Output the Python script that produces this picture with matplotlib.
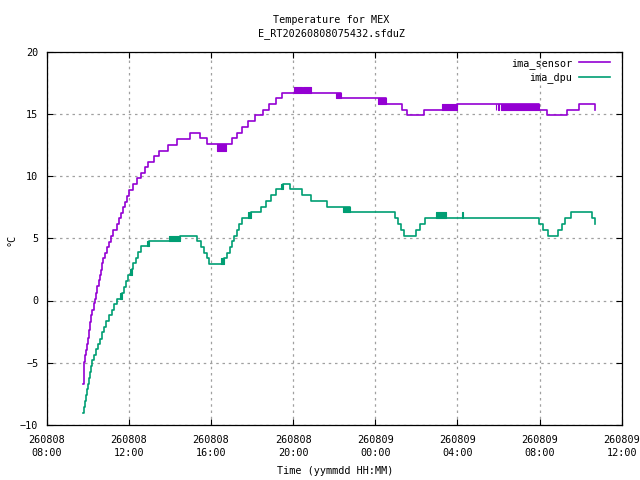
import matplotlib
matplotlib.use("Agg")
import matplotlib.pyplot as plt
import matplotlib.dates as mdates
import pandas as pd

# ---- data (hours after 2026-08-08 08:00, value from that time on) ----
base_time = "2026-08-08 08:00"
sensor_t = [1.78, 1.80, 1.83, 1.88, 1.93, 1.98, 2.03, 2.08, 2.12, 2.17, 2.22, 2.32, 2.37,
            2.42, 2.46, 2.56, 2.61, 2.66, 2.71, 2.76, 2.85, 2.95, 3.05, 3.15, 3.24, 3.44,
            3.53, 3.63, 3.73, 3.83, 3.92, 4.02, 4.22, 4.41, 4.61, 4.80, 4.95, 5.24, 5.48,
            5.92, 6.36, 6.98, 7.46, 7.83, 9.04, 9.25, 9.49, 9.79, 10.14, 10.55, 10.84,
            11.16, 11.44, 14.33, 16.50, 17.28, 17.56, 18.38, 19.99, 23.96, 24.34, 25.32,
            25.91, 26.69]
sensor_v = [-6.68, -5.87, -4.94, -4.40, -4.00, -3.46, -2.98, -2.39, -1.72, -1.18, -0.73,
            -0.24, 0.16, 0.61, 1.15, 1.63, 2.05, 2.44, 2.98, 3.38, 3.83, 4.31, 4.71, 5.17,
            5.66, 6.11, 6.60, 7.05, 7.48, 7.93, 8.39, 8.87, 9.33, 9.81, 10.27, 10.75, 11.15,
            11.61, 12.04, 12.49, 12.95, 13.48, 13.03, 12.55, 13.03, 13.48, 13.97, 14.42,
            14.90, 15.30, 15.80, 16.25, 16.65, 16.25, 15.77, 15.30, 14.90, 15.30, 15.77,
            15.30, 14.90, 15.30, 15.77, 15.30]
# rapid flicker between two levels
sensor_noise_t0 = [8.28, 12.05, 12.49, 14.08, 16.14, 19.26, 21.87, 21.99, 22.10]
sensor_noise_t1 = [8.71, 12.41, 12.87, 14.33, 16.50, 19.99, 21.90, 22.02, 23.96]
sensor_noise_lo = [12.04, 16.65, 16.65, 16.25, 15.77, 15.30, 15.30, 15.30, 15.30]
sensor_noise_hi = [12.55, 17.18, 17.18, 16.65, 16.25, 15.77, 15.77, 15.77, 15.77]

dpu_t = [1.78, 1.83, 1.88, 1.93, 1.98, 2.03, 2.07, 2.12, 2.17, 2.22, 2.32, 2.41, 2.51,
         2.61, 2.71, 2.80, 2.90, 3.05, 3.19, 3.29, 3.44, 3.68, 3.78, 3.88, 3.97, 4.17,
         4.22, 4.37, 4.47, 4.58, 5.00, 6.49, 7.30, 7.51, 7.68, 7.79, 7.92, 8.63, 8.79,
         8.92, 9.04, 9.13, 9.25, 9.38, 9.49, 9.93, 10.42, 10.66, 10.91, 11.16, 11.49,
         11.85, 12.41, 12.85, 13.63, 14.77, 16.96, 17.13, 17.27, 17.40, 17.98, 18.18,
         18.42, 23.97, 24.18, 24.42, 24.91, 25.07, 25.23, 25.51, 26.56, 26.69]
dpu_v = [-9.04, -8.56, -8.10, -7.62, -7.14, -6.68, -6.22, -5.74, -5.26, -4.80, -4.34,
         -3.92, -3.46, -3.06, -2.57, -2.12, -1.66, -1.18, -0.73, -0.32, 0.16, 0.61, 1.10,
         1.55, 2.04, 2.49, 2.98, 3.43, 3.91, 4.39, 4.75, 5.22, 4.75, 4.26, 3.83, 3.38,
         2.92, 3.38, 3.83, 4.26, 4.75, 5.22, 5.66, 6.11, 6.60, 7.08, 7.53, 7.99, 8.45,
         8.93, 9.33, 8.93, 8.45, 7.99, 7.53, 7.08, 6.60, 6.11, 5.66, 5.22, 5.66, 6.11,
         6.60, 6.11, 5.66, 5.22, 5.66, 6.11, 6.60, 7.08, 6.60, 6.11]
dpu_noise_t0 = [3.58, 4.07, 4.90, 5.97, 8.49, 9.82, 11.39, 14.41, 18.95, 20.22]
dpu_noise_t1 = [3.68, 4.17, 5.00, 6.49, 8.63, 9.93, 11.49, 14.77, 19.44, 20.26]
dpu_noise_lo = [0.16, 2.04, 4.39, 4.75, 2.92, 6.60, 8.93, 7.08, 6.60, 6.60]
dpu_noise_hi = [0.61, 2.49, 4.75, 5.22, 3.38, 7.08, 9.33, 7.53, 7.08, 7.08]

series_names = ["ima_sensor", "ima_dpu"]
series_colors = ["#9400D3", "#009E73"]
y_ticks = [-10, -5, 0, 5, 10, 15, 20]
title_lines = ["Temperature for MEX", "E_RT20260808075432.sfduZ"]

# ---- plotting ----
plt.rcParams['font.family'] = ['DejaVu Sans Mono', 'DejaVu Sans']
FS = 7.3
t0 = pd.Timestamp(base_time)
def to_dt(hours):
    return [t0 + pd.Timedelta(hours=h) for h in hours]

fig = plt.figure(figsize=(6.4, 4.8), dpi=100)
ax = fig.add_axes([46.7 / 640, 1 - 425 / 480, 575 / 640, 373.5 / 480])

series = [
    (sensor_t, sensor_v, sensor_noise_t0, sensor_noise_t1, sensor_noise_lo, sensor_noise_hi),
    (dpu_t, dpu_v, dpu_noise_t0, dpu_noise_t1, dpu_noise_lo, dpu_noise_hi),
]
for (tt, vv, n0, n1, nlo, nhi), name, col in zip(series, series_names, series_colors):
    ax.plot(to_dt(tt), vv, drawstyle='steps-post', color=col, lw=1.2, label=name, zorder=3)
    for a, b, lo, hi in zip(n0, n1, nlo, nhi):
        ax.fill_between(to_dt([a, b]), [lo, lo], [hi, hi], color=col, lw=0.8,
                        edgecolor=col, zorder=3)

ax.set_xlim(t0, t0 + pd.Timedelta(hours=28))
ax.set_ylim(-10, 20)
ax.set_yticks(y_ticks)
ax.xaxis.set_major_locator(mdates.HourLocator(byhour=[0, 4, 8, 12, 16, 20]))
ax.xaxis.set_major_formatter(mdates.DateFormatter('%y%m%d\n%H:%M'))
ax.tick_params(direction='in', length=4, width=0.8, top=True, right=True,
               labelsize=FS, colors='black')
ax.tick_params(axis='x', pad=7.5)
ax.tick_params(axis='y', pad=6)
for lab in ax.get_xticklabels():
    lab.set_linespacing(1.35)
ax.grid(True, color='#a0a0a0', linestyle=(0, (2, 3)), lw=0.9)
ax.set_axisbelow(True)
for s in ax.spines.values():
    s.set_linewidth(0.9)

fig.text(0.518, 1 - 20 / 480, title_lines[0], ha='center', va='center', fontsize=FS)
fig.text(0.518, 1 - 34 / 480, title_lines[1], ha='center', va='center', fontsize=FS)
fig.text(335 / 640, 1 - 471 / 480, "Time (yymmdd HH:MM)", ha='center', va='center', fontsize=FS)
fig.text(12 / 640, 0.5, "°C", ha='center', va='center', rotation=90, fontsize=FS)

leg = ax.legend(loc='upper right', bbox_to_anchor=((610 - 46.7) / 575, (425 - 58) / 373.5),
                frameon=False, markerfirst=False, fontsize=FS, borderpad=0,
                borderaxespad=0, handlelength=3.1, handletextpad=0.6, labelspacing=0.35)
for h in leg.legend_handles:
    h.set_linewidth(1.2)

fig.savefig("out.png", dpi=100)
